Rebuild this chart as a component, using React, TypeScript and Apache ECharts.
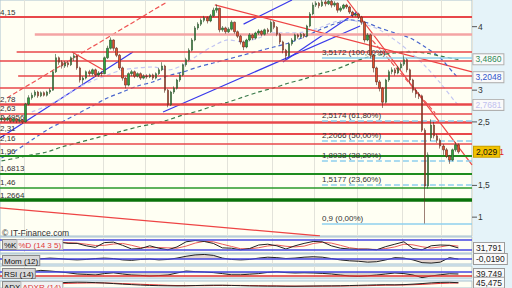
import React, { useEffect, useRef } from "react";
import * as echarts from "echarts";

const FONT = "'Liberation Sans', Arial, sans-serif";
const SLOT_COUNT = 156;
const slotLabels = Array.from({ length: SLOT_COUNT }, (_, i) => `J${i + 1}`);
const monthStartSlots = [8, 21, 34, 48, 61, 75, 90, 104, 118, 133, 146];

// [open, close, low, high]
const candles: number[][] = [
  [2.54, 2.56, 2.5, 2.6], [2.56, 2.53, 2.5, 2.58], [2.53, 2.56, 2.51, 2.58], [2.56, 2.51, 2.49, 2.57],
  [2.51, 2.55, 2.49, 2.57], [2.55, 2.51, 2.48, 2.56], [2.51, 2.53, 2.49, 2.55], [2.53, 2.5, 2.47, 2.54],
  [2.5, 2.78, 2.49, 2.8], [2.78, 2.88, 2.76, 2.92], [2.88, 2.92, 2.85, 2.96], [2.92, 2.97, 2.89, 3.0],
  [2.97, 2.91, 2.88, 2.99], [2.91, 2.96, 2.89, 2.98], [2.96, 2.92, 2.9, 2.98], [2.92, 2.97, 2.9, 2.99],
  [2.97, 3.0, 2.94, 3.03], [3.0, 3.29, 2.99, 3.31], [3.29, 3.51, 3.27, 3.57], [3.51, 3.44, 3.4, 3.53],
  [3.44, 3.38, 3.34, 3.47], [3.38, 3.43, 3.35, 3.46], [3.43, 3.4, 3.36, 3.46], [3.4, 3.51, 3.38, 3.53],
  [3.51, 3.54, 3.46, 3.58], [3.54, 3.35, 3.32, 3.55], [3.35, 3.16, 3.12, 3.37], [3.16, 3.19, 3.1, 3.22],
  [3.19, 3.29, 3.17, 3.31], [3.29, 3.26, 3.22, 3.32], [3.26, 3.32, 3.23, 3.34], [3.32, 3.24, 3.21, 3.34],
  [3.24, 3.27, 3.21, 3.3], [3.27, 3.26, 3.22, 3.3], [3.26, 3.51, 3.25, 3.53], [3.51, 3.66, 3.49, 3.7],
  [3.66, 3.79, 3.64, 3.83], [3.79, 3.66, 3.62, 3.8], [3.66, 3.55, 3.52, 3.68], [3.55, 3.35, 3.32, 3.57],
  [3.35, 3.19, 3.15, 3.37], [3.19, 3.08, 3.03, 3.21], [3.08, 3.26, 3.06, 3.28], [3.26, 3.29, 3.22, 3.32],
  [3.29, 3.22, 3.19, 3.31], [3.22, 3.26, 3.2, 3.28], [3.26, 3.19, 3.16, 3.28], [3.19, 3.22, 3.17, 3.25],
  [3.22, 3.21, 3.18, 3.25], [3.21, 3.24, 3.19, 3.26], [3.24, 3.19, 3.16, 3.26], [3.19, 3.26, 3.17, 3.28],
  [3.26, 3.32, 3.24, 3.35], [3.32, 3.38, 3.3, 3.44], [3.38, 3.0, 2.96, 3.4], [3.0, 2.77, 2.73, 3.02],
  [2.77, 2.97, 2.75, 2.99], [2.97, 3.03, 2.94, 3.06], [3.03, 3.16, 3.01, 3.18], [3.16, 3.24, 3.13, 3.27],
  [3.24, 3.4, 3.22, 3.42], [3.4, 3.48, 3.37, 3.51], [3.48, 3.63, 3.46, 3.66], [3.63, 3.79, 3.61, 3.82],
  [3.79, 3.98, 3.77, 4.01], [3.98, 4.04, 3.95, 4.07], [4.04, 4.1, 4.01, 4.13], [4.1, 4.14, 4.07, 4.17],
  [4.14, 4.09, 4.05, 4.16], [4.09, 4.17, 4.07, 4.2], [4.17, 4.26, 4.15, 4.3], [4.26, 4.29, 4.22, 4.35],
  [4.29, 3.95, 3.91, 4.3], [3.95, 3.98, 3.92, 4.01], [3.98, 3.92, 3.89, 4.0], [3.92, 3.96, 3.9, 3.99],
  [3.96, 4.07, 3.94, 4.1], [4.07, 3.92, 3.89, 4.08], [3.92, 3.85, 3.82, 3.94], [3.85, 3.76, 3.72, 3.87],
  [3.76, 3.68, 3.63, 3.78], [3.68, 3.79, 3.66, 3.81], [3.79, 3.87, 3.77, 3.9], [3.87, 3.82, 3.79, 3.89],
  [3.82, 3.9, 3.8, 3.92], [3.9, 3.93, 3.87, 3.96], [3.93, 3.88, 3.85, 3.95], [3.88, 3.95, 3.86, 3.97],
  [3.95, 3.92, 3.89, 3.98], [3.92, 4.07, 3.9, 4.1], [4.07, 3.99, 3.96, 4.09], [3.99, 3.88, 3.85, 4.01],
  [3.88, 3.76, 3.72, 3.9], [3.76, 3.63, 3.58, 3.78], [3.63, 3.54, 3.48, 3.65], [3.54, 3.73, 3.52, 3.75],
  [3.73, 3.79, 3.7, 3.82], [3.79, 3.87, 3.77, 3.89], [3.87, 3.84, 3.81, 3.89], [3.84, 3.88, 3.82, 3.9],
  [3.88, 3.85, 3.82, 3.9], [3.85, 4.01, 3.83, 4.03], [4.01, 4.2, 3.99, 4.23], [4.2, 4.34, 4.18, 4.38],
  [4.34, 4.37, 4.31, 4.4], [4.37, 4.33, 4.29, 4.39], [4.33, 4.39, 4.31, 4.42], [4.39, 4.36, 4.32, 4.42],
  [4.36, 4.4, 4.34, 4.42], [4.4, 4.34, 4.3, 4.42], [4.34, 4.37, 4.31, 4.4], [4.37, 4.26, 4.22, 4.38],
  [4.26, 4.29, 4.23, 4.32], [4.29, 4.34, 4.27, 4.36], [4.34, 4.31, 4.28, 4.36], [4.31, 4.23, 4.2, 4.33],
  [4.23, 4.18, 4.15, 4.25], [4.18, 4.2, 4.16, 4.22], [4.2, 4.15, 4.12, 4.22], [4.15, 4.07, 4.03, 4.17],
  [4.07, 3.79, 3.75, 4.09], [3.79, 3.87, 3.77, 3.9], [3.87, 3.55, 3.5, 3.89], [3.55, 3.35, 3.28, 3.57],
  [3.35, 3.13, 3.08, 3.37], [3.13, 3.03, 2.98, 3.16], [3.03, 2.81, 2.72, 3.05], [2.81, 3.16, 2.79, 3.18],
  [3.16, 3.29, 3.13, 3.32], [3.29, 3.32, 3.25, 3.36], [3.32, 3.27, 3.23, 3.35], [3.27, 3.35, 3.25, 3.38],
  [3.35, 3.41, 3.32, 3.44], [3.41, 3.48, 3.38, 3.55], [3.48, 3.32, 3.28, 3.5], [3.32, 3.16, 3.1, 3.34],
  [3.16, 3.0, 2.96, 3.18], [3.0, 2.94, 2.88, 3.03], [2.94, 2.91, 2.86, 2.97], [2.91, 2.37, 2.34, 2.93],
  [2.37, 1.49, 0.9, 2.4], [1.49, 1.98, 1.45, 2.02], [2.25, 2.45, 2.2, 2.54], [2.45, 2.28, 2.24, 2.5],
  [2.28, 2.21, 2.17, 2.31], [2.21, 2.12, 2.08, 2.24], [2.12, 2.06, 1.98, 2.15], [2.06, 1.96, 1.93, 2.09],
  [1.96, 1.9, 1.84, 1.98], [1.9, 2.06, 1.88, 2.08], [2.06, 2.14, 2.03, 2.18], [2.14, 2.029, 2.0, 2.16],
];

// moving averages, sampled every 5 slots (plus the last slot)
const maSlots = [0, 5, 10, 15, 20, 25, 30, 35, 40, 45, 50, 55, 60, 65, 70, 75, 80, 85, 90, 95, 100, 105, 110, 115, 120, 125, 130, 135, 140, 145, 150, 151];
const maLong = [1.885, 1.932, 1.98, 2.027, 2.106, 2.169, 2.232, 2.294, 2.357, 2.42, 2.468, 2.53, 2.609, 2.672, 2.751, 2.814, 2.893, 2.972, 3.035, 3.113, 3.176, 3.255, 3.318, 3.413, 3.507, 3.554, 3.586, 3.602, 3.586, 3.538, 3.491, 3.486];
const maMid = [1.932, 2.058, 2.216, 2.373, 2.499, 2.625, 2.751, 2.877, 2.972, 3.066, 3.129, 3.224, 3.287, 3.365, 3.428, 3.491, 3.554, 3.617, 3.68, 3.743, 3.838, 3.948, 4.042, 4.106, 4.074, 3.98, 3.901, 3.822, 3.68, 3.507, 3.239, 3.2048];
const maShort = [null, null, 2.657, 2.751, 2.877, 3.035, 3.145, 3.239, 3.318, 3.35, 3.365, 3.318, 3.397, 3.554, 3.696, 3.791, 3.759, 3.822, 3.901, 3.901, 3.917, 3.98, 4.074, 4.106, 4.042, 3.948, 3.791, 3.602, 3.381, 3.113, 2.814, 2.7681];

// horizontal levels
const resistLevels = [4.15, 3.885, 3.6, 3.46, 3.224, 3.04, 2.78, 2.63, 2.4956, 2.31, 2.16];
const resistLabels = ["4,15", "", "", "", "", "", "2,78", "2,63", "2,4956", "2,31", "2,16"];
const resistStartSlot = [-0.5, 11, 5, -0.5, 5.5, -0.5, -0.5, -0.5, -0.5, -0.5, -0.5];
const supportLevels = [1.96, 1.6813, 1.46, 1.2664];
const supportLabels = ["1,96", "1,6813", "1,46", "1,2664"];
const fibLevels = [3.5172, 2.5174, 2.2066, 1.8938, 1.5177, 0.9];
const fibLabels = ["3,5172 (100,00%)", "2,5174 (61,80%)", "2,2066 (50,00%)", "1,8938 (38,20%)", "1,5177 (23,60%)", "0,9 (0,00%)"];
const fibStartSlot = 105.9;

// trend lines: [[slot, price], [slot, price]]
const blueTrends = [
  [[-0.5, 2.247], [43.45, 3.602]],
  [[53.4, 2.657], [118.5, 4.011]],
  [[93, 3.444], [117.5, 4.232]],
  [[80, 4.04], [96, 4.42]],
];
const redTrends = [
  [[70.5, 4.342], [155.5, 3.287]],
  [[114.2, 4.42], [155.5, 1.822]],
  [[-0.5, 1.145], [105.25, 0.704]],
  [[23.3, 3.6], [33.5, 3.32]],
];
const redDashedTrends = [
  [[1.8, 2.877], [54.7, 4.389]],
  [[121, 3.87], [143.3, 2.64]],
];

// indicators, one value every 3 slots
const indSlots = Array.from({ length: 51 }, (_, j) => 3 * j + 1);
const stochK = [60, 55, 62, 70, 65, 72, 68, 60, 60, 45, 35, 65, 68, 48, 25, 28, 45, 30, 20, 38, 70, 78, 72, 60, 32, 30, 20, 28, 50, 55, 45, 25, 45, 60, 72, 70, 45, 30, 25, 23, 24, 20, 40, 55, 70, 28, 20, 45, 50, 48, 31.791];
const stochD = [58, 58, 59, 63, 66, 69, 68, 65, 62, 55, 47, 48, 56, 60, 48, 34, 33, 34, 32, 30, 43, 62, 73, 70, 55, 41, 27, 26, 33, 44, 50, 42, 38, 43, 59, 67, 62, 48, 33, 26, 24, 22, 28, 38, 55, 51, 39, 31, 38, 48, 43];
const momentum = [0, 0.1, -0.1, 0.1, 0.05, 0.2, 0.1, -0.1, -0.2, -0.1, 0.1, 0.2, 0.1, -0.2, -0.3, -0.1, 0, -0.2, -0.1, 0.2, 0.6, 0.9, 1.0, 0.8, 0.2, -0.1, -0.2, -0.1, 0.2, 0.4, 0.3, 0.1, 0.2, 0.4, 0.5, 0.4, 0.1, -0.2, -0.4, -0.5, -0.7, -0.6, -0.2, 0.3, 0.2, -0.2, -0.8, -0.9, -0.7, 0.3, -0.019];
const rsi = [50, 52, 55, 52, 58, 55, 51, 46, 40, 38, 35, 42, 46, 40, 35, 33, 30, 32, 35, 45, 55, 52, 50, 47, 42, 36, 36, 39, 42, 48, 51, 47, 45, 46, 45, 43, 40, 35, 30, 28, 31, 35, 40, 45, 42, 35, 22, 30, 36, 41, 39.749];
const adx = [30, 33, 36, 39, 41, 43, 45, 48, 50, 49, 46, 43, 38, 33, 29, 25, 22, 20, 19, 18, 19, 21, 23, 24, 24, 22, 20, 18, 17, 16, 16, 15, 15, 16, 17, 18, 18, 19, 21, 23, 25, 27, 28, 27, 29, 33, 38, 44, 48, 49, 45.475];
const adxr = [24, 26, 28, 31, 34, 36, 38, 40, 42, 43, 44, 43, 41, 38, 35, 32, 29, 26, 23, 21, 20, 20, 20, 21, 22, 22, 22, 21, 20, 19, 18, 17, 16, 16, 16, 16, 17, 17, 18, 19, 20, 22, 24, 25, 26, 28, 31, 35, 39, 42, 43];

const fmt = (v: number, d: number) => v.toFixed(d).replace(".", ",");
const last = (a: any[]) => a[a.length - 1];

function buildOption() {
  const RED = "#e8474a";
  const catAxis = (gridIndex: number) => ({
    type: "category", gridIndex, data: slotLabels, boundaryGap: true,
    axisLine: { show: false }, axisTick: { show: false }, axisLabel: { show: false },
    splitLine: { show: true, interval: (i: number) => monthStartSlots.includes(i), lineStyle: { color: "#e3e3da", width: 1 } },
  });
  const valAxis = (gridIndex: number) => ({ type: "value", gridIndex, min: -0.5, max: SLOT_COUNT - 0.5, show: false });
  const gridBase = { left: 0, width: 472, show: true, backgroundColor: "#fffff3", borderColor: "#a9c2d0", borderWidth: 1 };

  const boxLabel = (text: string, color: string) => ({
    show: true, position: "end", distance: 2, formatter: text, color, fontSize: 8.5, fontFamily: FONT,
    backgroundColor: "#fafafa", borderColor: "#9a9a9a", borderWidth: 1, padding: [1, 2, 0, 2],
  });

  const levelLine = (start: number, v: number, color: string, width: number, label: string, type = "solid") => [
    {
      coord: [start, v],
      lineStyle: { color, width, type },
      label: label
        ? { show: true, position: "insideStartTop", distance: [0, 1], formatter: label, color: "#333", fontSize: 8, fontFamily: FONT }
        : { show: false },
    },
    { coord: [SLOT_COUNT - 0.5, v] },
  ];

  const resistWidths = [2, 2.5, 1.5, 1.5, 1.5, 1.5, 2.5, 1.5, 2.5, 2, 1.5];
  const resistColors = resistLevels.map((_, i) => (i === 1 ? "#f4a4a4" : RED));
  const supportWidths = [2, 2, 1.5, 3.5];
  const supportColors = ["#1e8c1e", "#1e8c1e", "#2a9a2a", "#0a720a"];

  const levelData = [
    ...resistLevels.map((v, i) => levelLine(resistStartSlot[i], v, resistColors[i], resistWidths[i], resistLabels[i])),
    ...supportLevels.map((v, i) => levelLine(-0.5, v, supportColors[i], supportWidths[i], supportLabels[i])),
    ...fibLevels.map((v, i) =>
      levelLine(fibStartSlot, v, "#8fd0ee", 1.5, fibLabels[i], i === 0 || i === fibLevels.length - 1 ? "solid" : "dashed")
    ),
  ];

  const segSeries = (segs: number[][][], color: string, width: number, type = "solid") =>
    segs.map((seg) => ({
      type: "line", xAxisIndex: 1, yAxisIndex: 0, data: seg, symbol: "none", silent: true, z: 3,
      lineStyle: { color, width, type },
    }));

  const maSeries = (vals: (number | null)[], color: string, labelColor: string, digits: number) => ({
    type: "line", xAxisIndex: 1, yAxisIndex: 0, symbol: "none", smooth: 0.3, silent: true, z: 4,
    data: maSlots.map((s, k) => [s, vals[k]]),
    lineStyle: { color, width: 1.2, type: [4, 3] },
    endLabel: {
      show: true, distance: 15, formatter: () => fmt(last(vals) as number, digits), color: labelColor, fontSize: 8.5,
      fontFamily: FONT, backgroundColor: "#fafafa", borderColor: "#b0b0b0", borderWidth: 1, padding: [1, 2, 0, 2],
    },
  });

  const ind = (grid: number, vals: number[], color: string, extra: any = {}) => ({
    type: "line", xAxisIndex: 2 * grid + 1, yAxisIndex: grid, symbol: "none", silent: true,
    data: indSlots.map((s, k) => [s, vals[k]]),
    lineStyle: { color, width: 1 }, ...extra,
  });
  const refLines = (items: { v: number; color: string }[], lastVal: number | null, lastText: string) => ({
    symbol: ["none", "none"], silent: true, animation: false,
    data: [
      ...items.map((it) => ({ yAxis: it.v, lineStyle: { color: it.color, width: 1.5, type: "solid" }, label: { show: false } })),
      ...(lastVal === null ? [] : [{ yAxis: lastVal, lineStyle: { color: "transparent", width: 0 }, label: boxLabel(lastText, "#222") }]),
    ],
  });

  const BLUE = "#4646e0";
  const lastClose = last(candles)[1];
  const boxStyle = { fontSize: 8, fill: "#111", backgroundColor: "#d9d9d9", borderColor: "#8a8a8a", borderWidth: 1, padding: [1, 1, 0, 1] };
  const redBoxStyle = { fontSize: 8, fill: "#e03a3a", backgroundColor: "#f3f3f3", borderColor: "#bbb", borderWidth: 1, padding: [1, 1, 0, 1] };

  return {
    animation: false,
    textStyle: { fontFamily: FONT },
    grid: [
      { ...gridBase, top: 0, height: 236 },
      { ...gridBase, top: 237, height: 16 },
      { ...gridBase, top: 254, height: 10 },
      { ...gridBase, top: 266, height: 12 },
      { ...gridBase, top: 281, height: 21 },
    ],
    xAxis: [catAxis(0), valAxis(0), catAxis(1), valAxis(1), catAxis(2), valAxis(2), catAxis(3), valAxis(3), catAxis(4), valAxis(4)],
    yAxis: [
      {
        type: "value", gridIndex: 0, position: "right", min: 0.703, max: 4.42, splitNumber: 8,
        axisLine: { show: false }, axisTick: { show: false }, splitLine: { show: false },
        axisLabel: {
          margin: 0,
          formatter: (v: number) => {
            const r = Math.round(v * 2) / 2;
            if (Math.abs(v - r) > 1e-6 || r === 2 || r === 3.5) return "";
            return `{t|}{v|${String(r).replace(".", ",")}}`;
          },
          rich: {
            t: { width: 5, height: 1, backgroundColor: "#555" },
            v: { fontSize: 8.5, color: "#333", fontFamily: FONT, padding: [0, 0, 0, 1] },
          },
        },
      },
      { type: "value", gridIndex: 1, min: 0, max: 100, show: false },
      { type: "value", gridIndex: 2, min: -1.1, max: 1.1, show: false },
      { type: "value", gridIndex: 3, min: 20, max: 80, show: false },
      { type: "value", gridIndex: 4, min: 0, max: 60, show: false },
    ],
    graphic: [
      { type: "text", left: 2, top: 228, z: 100, style: { text: "© IT-Finance.com", fontSize: 8.5, fill: "#333", fontFamily: FONT } },
      {
        type: "text", left: 2, top: 239, z: 100,
        style: { text: "{k|%K}{d|%D (14 3 5)}", fontFamily: FONT, rich: { k: boxStyle, d: redBoxStyle } },
      },
      { type: "text", left: 2, top: 255, z: 100, style: { text: "Mom (12)", fontFamily: FONT, ...boxStyle } },
      { type: "text", left: 2, top: 268, z: 100, style: { text: "RSI (14)", fontFamily: FONT, ...boxStyle } },
      {
        type: "text", left: 2, top: 281, z: 100,
        style: { text: "{k|ADX}{d|ADXR (14)}", fontFamily: FONT, rich: { k: boxStyle, d: redBoxStyle } },
      },
    ],
    series: [
      {
        type: "line", xAxisIndex: 1, yAxisIndex: 0, data: [], silent: true, z: 2,
        markLine: { symbol: ["none", "none"], silent: true, animation: false, data: levelData },
      },
      ...segSeries(blueTrends, "#3a3aea", 1.2),
      ...segSeries(redTrends, "#ee4444", 1.2),
      ...segSeries(redDashedTrends, "#ee5555", 1.2, "dashed"),
      maSeries(maShort, "#c3c6f2", "#c0c0ee", 4),
      maSeries(maMid, "#4a66cc", "#3355cc", 4),
      maSeries(maLong, "#3a7a4a", "#2e8b57", 4),
      {
        type: "candlestick", xAxisIndex: 0, yAxisIndex: 0, data: candles, barWidth: 2, z: 5, silent: true,
        itemStyle: { color: "#2fa33a", color0: "#e2502c", borderColor: "#2b4a2b", borderColor0: "#5a2a20", borderWidth: 0.6 },
        markLine: {
          symbol: ["none", "none"], silent: true, animation: false,
          data: [{
            yAxis: lastClose, lineStyle: { color: "transparent", width: 0 },
            label: {
              show: true, position: "end", distance: 2, formatter: `{a|${fmt(lastClose, 3)}}{b|1}`,
              rich: {
                a: { fontSize: 8.5, color: "#111", fontFamily: FONT, backgroundColor: "#f2c200", borderColor: "#c9a000", borderWidth: 1, padding: [1, 2, 0, 2] },
                b: { fontSize: 8.5, color: "#e02020", fontFamily: FONT },
              },
            },
          }],
        },
      },
      ind(1, stochD, "#e85a5a"),
      { ...ind(1, stochK, "#222"), markLine: refLines([{ v: 80, color: BLUE }, { v: 20, color: BLUE }], last(stochK), fmt(last(stochK), 3)) },
      {
        ...ind(2, momentum, "#222"),
        areaStyle: { origin: 0, color: "rgba(170,120,120,0.45)" },
        markLine: refLines([{ v: 0, color: BLUE }], last(momentum), fmt(last(momentum), 4)),
      },
      {
        ...ind(3, rsi, "#222"),
        areaStyle: { origin: 50, color: "rgba(120,120,120,0.45)" },
        markLine: refLines([{ v: 50, color: BLUE }, { v: 30, color: "#e03030" }], last(rsi), fmt(last(rsi), 3)),
      },
      ind(4, adxr, "#e03030"),
      { ...ind(4, adx, "#222"), markLine: refLines([], last(adx), fmt(last(adx), 3)) },
    ],
  };
}

export default function App() {
  const ref = useRef<HTMLDivElement>(null);
  useEffect(() => {
    if (!ref.current) return;
    const chart = echarts.init(ref.current, undefined, { renderer: "svg" });
    chart.setOption(buildOption() as any);
    return () => chart.dispose();
  }, []);
  return (
    <div style={{ position: "fixed", left: 0, top: 0, width: 512, height: 288, background: "#e5f3f9", overflow: "hidden" }}>
      <div ref={ref} style={{ width: 512, height: 288 }} />
    </div>
  );
}
